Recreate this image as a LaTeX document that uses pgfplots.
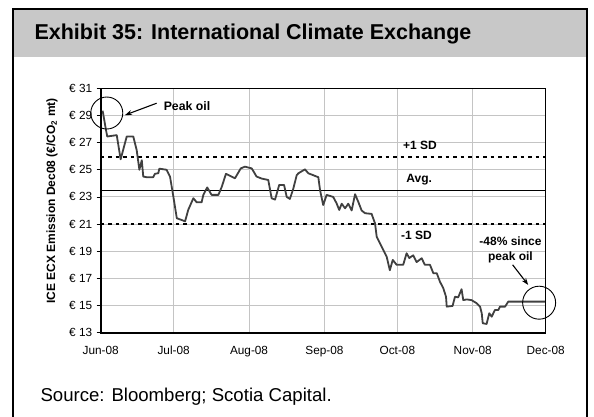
\documentclass[border=0pt]{standalone}
\usepackage{fontspec}
\setmainfont{Liberation Sans}
\usepackage{pgfplots}
\pgfplotsset{compat=1.18}
\usetikzlibrary{arrows.meta}

\definecolor{headgray}{HTML}{C8C8C8}
\definecolor{gridgray}{HTML}{C4C4C4}
\definecolor{seriesgray}{HTML}{404040}

% ICE ECX Dec08 EUA futures, days since 1 Jun 2008
\pgfplotstableread{
day   price
0.8   29.35
2.2   27.90
2.7   27.45
6.6   27.55
8.2   25.77
10.7  27.45
13.4  27.45
14.8  26.45
15.9  25.00
16.9  25.70
17.5  24.50
18.9  24.45
21.6  24.45
22.3  24.70
23.7  24.75
24.1  25.08
27.1  25.00
28.5  24.50
29.9  23.00
31.3  21.43
33.3  21.30
34.7  21.20
36.0  22.05
38.1  22.90
39.5  22.60
41.5  22.60
42.2  23.15
43.8  23.70
45.6  23.15
48.4  23.15
49.8  23.75
51.5  24.70
53.2  24.55
55.2  24.37
57.6  25.10
59.3  25.23
62.1  25.10
64.1  24.50
66.2  24.35
68.9  24.25
70.3  22.90
71.7  22.80
73.4  23.88
75.4  23.88
76.5  23.00
77.8  22.85
79.2  23.60
80.6  24.60
81.3  24.74
84.0  25.03
85.4  24.74
87.4  24.60
89.5  24.45
90.2  23.50
91.5  22.40
92.9  23.15
95.6  23.00
97.0  22.53
98.1  22.04
99.1  22.50
100.5 22.16
101.8 22.50
103.2 22.00
104.6 23.20
105.9 22.65
107.3 22.00
108.7 21.80
111.4 21.75
112.8 21.06
113.5 20.07
114.8 19.60
116.2 19.10
117.6 18.60
118.9 17.60
120.1 18.36
121.7 18.00
124.4 18.00
125.8 18.85
126.9 18.50
128.5 18.70
129.9 18.20
132.0 18.48
133.3 18.00
135.4 18.00
136.8 17.38
138.2 17.38
139.5 16.76
140.9 16.27
142.0 15.65
142.3 14.92
144.7 14.97
145.7 15.65
147.0 15.60
148.4 16.20
149.1 15.40
150.5 15.45
152.5 15.40
154.6 15.17
156.0 14.92
156.7 14.43
157.1 13.70
158.7 13.64
159.8 14.43
160.8 14.18
162.1 14.67
163.5 14.67
164.2 14.92
166.3 14.92
167.6 15.29
182.0 15.29
182.7 15.29
}\icedata

\begin{document}
\begin{tikzpicture}
  \useasboundingbox (0pt,0pt) rectangle (594pt,417pt);
  % exhibit frame and header band
  \fill[headgray] (13pt,408pt) rectangle (587pt,360pt);
  \draw[line width=2pt] (13pt,0pt) -- (13pt,408pt) -- (587pt,408pt) -- (587pt,0pt);
  \node[anchor=west, font=\fontsize{21.5}{24}\selectfont\bfseries] at (31pt,383pt)
    {Exhibit 35: International Climate Exchange};
  \node[anchor=west, font=\fontsize{18.6}{21}\selectfont] at (37pt,20pt)
    {Source: Bloomberg; Scotia Capital.};
  % y-axis title
  \node[rotate=90, font=\fontsize{12}{14}\selectfont\bfseries] at (52pt,216pt)
    {ICE ECX Emission Dec08 (€/CO\textsubscript{2} mt)};

  \begin{axis}[
    at={(100.7pt,84.3pt)}, anchor=south west,
    scale only axis, width=445pt, height=244.4pt,
    xmin=0, xmax=183, ymin=13, ymax=31,
    xtick={0,30,61,92,122,153,183},
    xticklabels={Jun-08,Jul-08,Aug-08,Sep-08,Oct-08,Nov-08,Dec-08},
    ytick={13,15,...,31},
    yticklabels={€ 13,€ 15,€ 17,€ 19,€ 21,€ 23,€ 25,€ 27,€ 29,€ 31},
    xtick style={draw=none},
    ytick pos=left, tick align=outside, major tick length=4pt,
    ytick style={black, line width=0.8pt},
    xticklabel style={yshift=-6pt},
    yticklabel style={xshift=-1pt},
    ticklabel style={font=\fontsize{11.8}{13}\selectfont},
    /pgf/number format/assume math mode=true,
    grid=major, major grid style={gridgray, line width=0.9pt},
    axis line style={black, line width=0.8pt},
    clip=false,
  ]
    % long-run reference levels
    \addplot[black, line width=1.8pt, dash pattern=on 3.5pt off 4pt] coordinates {(0,25.96) (183,25.96)};
    \addplot[black, line width=0.9pt] coordinates {(0,23.5) (183,23.5)};
    \addplot[black, line width=1.8pt, dash pattern=on 3.5pt off 4pt] coordinates {(0,21.0) (183,21.0)};

    \addplot[seriesgray, line width=1.8pt, line join=round] table[x=day, y=price] {\icedata};

    % heavier left and bottom axis lines
    \draw[black, line width=1.8pt] (rel axis cs:0,1) -- (rel axis cs:0,0) -- (rel axis cs:1,0);

    \node[font=\fontsize{12}{14}\selectfont\bfseries] at (axis cs:131.3,26.83) {+1 SD};
    \node[font=\fontsize{12}{14}\selectfont\bfseries] at (axis cs:131.0,24.25) {Avg.};
    \node[font=\fontsize{12}{14}\selectfont\bfseries] at (axis cs:129.9,20.2) {-1 SD};
    \node[font=\fontsize{12.3}{14}\selectfont\bfseries] at (axis cs:35.5,29.7) {Peak oil};
    \node[font=\fontsize{12}{15}\selectfont\bfseries, align=center] at (axis cs:168.5,19.13)
      {-48\% since\\peak oil};

    \draw[line width=0.9pt] (axis cs:2.5,29.18) circle[radius=16pt];
    \draw[line width=0.9pt] (axis cs:180.3,15.21) circle[radius=16.5pt];
    \draw[line width=1.1pt, -{Stealth[length=7pt,width=5pt]}] (axis cs:23.0,29.9) -- (axis cs:10.0,29.03);
    \draw[line width=1.1pt, -{Stealth[length=7pt,width=5pt]}] (axis cs:169.4,18.0) -- (axis cs:175.8,16.52);
  \end{axis}
\end{tikzpicture}
\end{document}
